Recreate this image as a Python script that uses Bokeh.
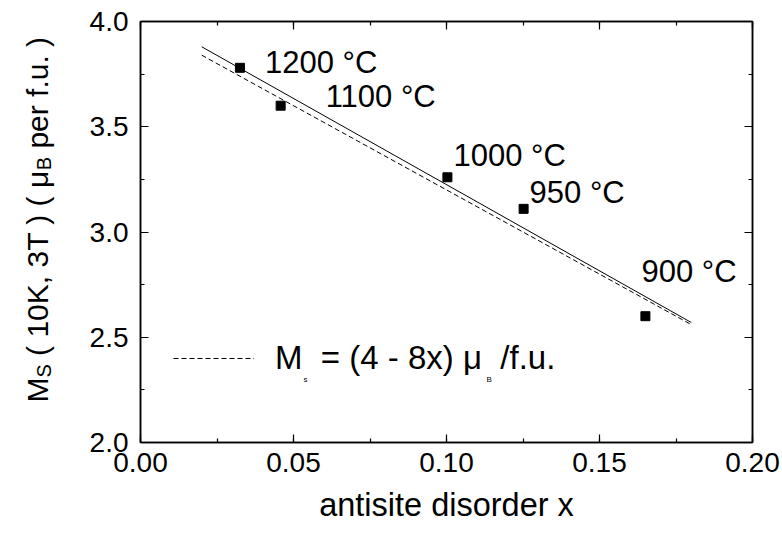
from bokeh.plotting import figure
from bokeh.models import (ColumnDataSource, Range1d, SingleIntervalTicker, LinearAxis,
                          Legend, LegendItem, CustomJSTickFormatter)
from bokeh.layouts import row
from bokeh.core.properties import value
from bokeh.embed import file_html
from bokeh.resources import INLINE
import math

# ---- data ----
temps = ["1200 °C", "1100 °C", "1000 °C", "950 °C", "900 °C"]
disorder_x = [0.0325, 0.0458, 0.1003, 0.1252, 0.1650]
ms_values = [3.78, 3.60, 3.26, 3.11, 2.60]

fit_x = [0.02, 0.18]
fit_y = [3.88, 2.57]

model_x = [0.02, 0.18]
model_y = [3.84, 2.56]

x_ticks_interval = 0.05
y_ticks_interval = 0.5

ylabel_parts = ["M", "S", "( 10K, 3T ) ( μ", "B", "per f.u. )"]
legend_text = "M  = (4 - 8x) μ  /f.u."
legend_subs = ["s", "B"]

FONT = "Liberation Sans"

W, H = 782, 534
LABEL_W = 60
PAGE_LEFT, RIGHT, TOP, BOTTOM = 140, 30, 21, 92
X0, X1, Y0, Y1 = 0.0, 0.20, 2.0, 4.0
FW = W - PAGE_LEFT - RIGHT
FH = H - TOP - BOTTOM


def px2x(px):
    return X0 + (px - PAGE_LEFT) / FW * (X1 - X0)


def py2y(py):
    return Y1 - (py - TOP) / FH * (Y1 - Y0)


# ---------- y-axis title panel (frame is aligned with the main plot's frame) ----------
lab = figure(width=LABEL_W, height=H, output_backend="svg", toolbar_location=None,
             x_range=Range1d(0, LABEL_W), y_range=Range1d(Y0, Y1),
             min_border_left=0, min_border_right=0,
             min_border_top=TOP, min_border_bottom=BOTTOM,
             x_axis_type=None, y_axis_type=None)
lab.grid.visible = False
lab.outline_line_color = None
lab.background_fill_color = "white"
lab.border_fill_color = "white"

# (page-y of start, font size, baseline x)
ylab_pos = [(402, 30, 37), (377, 20, 43), (355.4, 30, 37), (169.7, 20, 43), (148.1, 30, 37)]
for txt, (py, fs, bx) in zip(ylabel_parts, ylab_pos):
    lab.text(x=[bx], y=[py2y(py)], text=[txt], angle=math.pi / 2,
             text_font=value(FONT), text_font_size=f"{fs}px", text_color="black",
             text_align="left", text_baseline="alphabetic")

# ---------- main plot ----------
p = figure(width=W - LABEL_W, height=H, output_backend="svg", toolbar_location=None,
           x_range=Range1d(X0, X1), y_range=Range1d(Y0, Y1),
           min_border_left=PAGE_LEFT - LABEL_W, min_border_right=RIGHT,
           min_border_top=TOP, min_border_bottom=BOTTOM,
           x_axis_type=None, y_axis_type=None)
p.grid.visible = False
p.outline_line_color = "black"
p.outline_line_width = 1.5
p.background_fill_color = "white"
p.border_fill_color = "white"


def make_axis(ticker, labels=True):
    ax = LinearAxis(ticker=ticker)
    ax.axis_line_color = "black"
    ax.axis_line_width = 1.5
    ax.major_tick_in = 8
    ax.major_tick_out = 0
    ax.minor_tick_in = 4
    ax.minor_tick_out = 0
    ax.major_tick_line_width = 1.2
    ax.minor_tick_line_width = 1.2
    ax.major_label_text_font = FONT
    ax.major_label_text_font_size = "28px"
    ax.major_label_text_color = "black"
    if not labels:
        ax.formatter = CustomJSTickFormatter(code="return ''")
        ax.major_label_standoff = 0
    return ax


xb = make_axis(SingleIntervalTicker(interval=x_ticks_interval, num_minor_ticks=2))
xb.major_label_standoff = 10
xb.axis_label = "antisite disorder x"
xb.axis_label_text_font = FONT
xb.axis_label_text_font_size = "32.5px"
xb.axis_label_text_font_style = "normal"
xb.axis_label_text_color = "black"
xb.axis_label_standoff = 12
xb.formatter = CustomJSTickFormatter(code="return tick.toFixed(2)")
p.add_layout(xb, "below")

yl = make_axis(SingleIntervalTicker(interval=y_ticks_interval, num_minor_ticks=2))
yl.major_label_standoff = 12
yl.formatter = CustomJSTickFormatter(code="return tick.toFixed(1)")
p.add_layout(yl, "left")

p.add_layout(make_axis(SingleIntervalTicker(interval=x_ticks_interval, num_minor_ticks=2), labels=False), "above")
p.add_layout(make_axis(SingleIntervalTicker(interval=y_ticks_interval, num_minor_ticks=2), labels=False), "right")

# lines
p.line(fit_x, fit_y, line_color="black", line_width=1)
model_r = p.line(model_x, model_y, line_color="black", line_width=1, line_dash="5 3")

# points + temperature annotations
src = ColumnDataSource(dict(x=disorder_x, y=ms_values, t=temps,
                            dx=[25, 45, 6, 6, -4], dy=[-5, -9, -22, -16, -45]))
p.scatter("x", "y", source=src, marker="square", size=9, fill_color="black", line_color="black")
p.text("x", "y", text="t", source=src, x_offset="dx", y_offset="dy",
       text_font=value(FONT), text_font_size="31px", text_color="black",
       text_align="left", text_baseline="alphabetic")

# legend
leg = Legend(items=[LegendItem(label=legend_text, renderers=[model_r])],
             location=(33, 65), padding=0, margin=0, spacing=0,
             glyph_width=81, glyph_height=20, label_standoff=21,
             label_text_font=FONT, label_text_font_size="33px", label_text_color="black",
             border_line_color=None, background_fill_alpha=0)
p.add_layout(leg)

sub_px = [(303, 379), (486, 379)]
p.text(x=[px2x(a) for a, _ in sub_px], y=[py2y(b) for _, b in sub_px], text=legend_subs,
       text_font=value(FONT), text_font_size="8px", text_color="black",
       text_align="left", text_baseline="alphabetic")

layout = row(lab, p, spacing=0)
open("out.html", "w").write(file_html(layout, INLINE))
